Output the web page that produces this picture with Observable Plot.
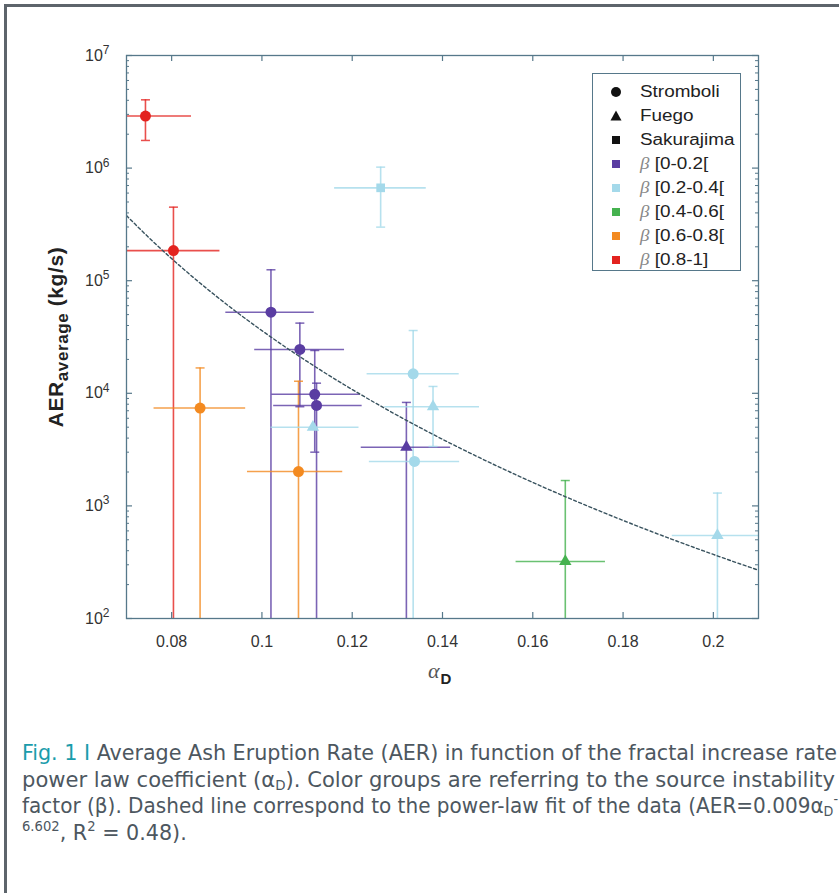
<!DOCTYPE html>
<html>
<head>
<meta charset="utf-8">
<script src="https://cdn.jsdelivr.net/npm/d3@7"></script>
<script src="https://cdn.jsdelivr.net/npm/@observablehq/plot@0.6"></script>
<style>
  html, body { margin: 0; padding: 0; background: #fff; }
  body { width: 839px; height: 893px; overflow: hidden; position: relative; font-family: "Liberation Sans", Arial, sans-serif; }
  #frame { position: absolute; left: 4px; top: 4px; width: 850px; height: 900px; border-left: 3px solid #5d646b; border-top: 3px solid #5d646b; box-sizing: border-box; }
  #chart { position: absolute; left: 0; top: 0; }
  #ylabel { position: absolute; left: 58px; top: 337px; transform: translate(-50%, -50%) rotate(-90deg); white-space: nowrap; font-weight: bold; color: #222; font-size: 21px; letter-spacing: 0.6px; }
  #ylabel sub { font-size: 17px; vertical-align: -5px; }
  #xlabel { position: absolute; left: 428px; top: 658px; white-space: nowrap; color: #222; }
  #xlabel .a { font-family: "Liberation Serif", serif; font-style: italic; font-size: 22px; color: #555; }
  #xlabel .d { font-weight: bold; font-size: 15px; position: relative; top: 6px; margin-left: 1px; }
  #legend { position: absolute; left: 592px; top: 73px; width: 149px; height: 198px; border: 1px solid #56788a; background: #fff; box-sizing: border-box; }
  .item { position: absolute; left: 0; height: 20px; white-space: nowrap; }
  .item svg { position: absolute; left: 17px; top: 4px; }
  .item span { position: absolute; left: 47px; top: 0; font-size: 16px; line-height: 20px; color: #222; display: inline-block; transform: scaleX(1.18); transform-origin: left center; }
  .item span i { font-family: "Liberation Serif", serif; color: #888; }
  #caption { position: absolute; left: 22px; top: 740px; white-space: nowrap; font-family: "DejaVu Sans", sans-serif; font-stretch: condensed; font-size: 22px; line-height: 26.5px; color: #4d575f; }
  #caption .ln { display: inline-block; transform-origin: left center; }
  #caption .fig { color: #1a9cab; }
  #caption sub { font-size: 14px; vertical-align: -3px; line-height: 0; }
  #caption sup { font-size: 14px; vertical-align: 9px; line-height: 0; }
</style>
</head>
<body>
<div id="frame"></div>
<div id="chart"></div>
<div id="ylabel">AER<sub>average</sub> (kg/s)</div>
<div id="xlabel"><span class="a">α</span><span class="d">D</span></div>
<div id="legend"></div>
<div id="caption"></div>
<script>
// ---------------- data ----------------
const volcano   = ["Stromboli","Stromboli","Stromboli","Stromboli","Stromboli","Stromboli","Stromboli","Stromboli","Fuego","Fuego","Stromboli","Stromboli","Fuego","Fuego","Fuego","Sakurajima"];
const betaClass = ["[0.8-1]","[0.8-1]","[0.6-0.8[","[0-0.2[","[0-0.2[","[0.6-0.8[","[0-0.2[","[0-0.2[","[0.2-0.4[","[0-0.2[","[0.2-0.4[","[0.2-0.4[","[0.2-0.4[","[0.4-0.6[","[0.2-0.4[","[0.2-0.4["];
const alphaD    = [0.0742,0.0804,0.0863,0.1020,0.1084,0.1081,0.1117,0.1121,0.1113,0.1320,0.1335,0.1338,0.1379,0.1672,0.2009,0.1263];
const alphaLo   = [0.0640,0.0699,0.0761,0.0920,0.0984,0.0968,0.1022,0.1026,0.1020,0.1220,0.1233,0.1238,0.1272,0.1563,0.1909,0.1161];
const alphaHi   = [0.0844,0.0907,0.0964,0.1116,0.1183,0.1179,0.1218,0.1222,0.1215,0.1418,0.1437,0.1438,0.1482,0.1761,0.2109,0.1364];
const aer       = [2.9e6,1.85e5,7.4e3,5.25e4,2.45e4,2.02e3,9.8e3,7.8e3,5.0e3,3.32e3,1.49e4,2.48e3,7.6e3,321,546,6.68e5];
const aerLo     = [1.76e6,1,1,1,7.6e3,1,3.0e3,1,5.0e3,1,1,2.48e3,3.37e3,1,1,2.99e5];
const aerHi     = [4.04e6,4.5e5,1.68e4,1.25e5,4.2e4,1.28e4,2.4e4,1.23e4,5.0e3,8.3e3,3.61e4,2.48e3,1.15e4,1.68e3,1.3e3,1.02e6];

const volcanoes   = ["Stromboli","Fuego","Sakurajima"];
const betaClasses = ["[0-0.2[","[0.2-0.4[","[0.4-0.6[","[0.6-0.8[","[0.8-1]"];
const betaColors  = ["#5a3da2","#a4d9ea","#45b24f","#f38a20","#e3231f"];

const xTicks      = [0.08,0.10,0.12,0.14,0.16,0.18,0.20];
const xTickLabels = ["0.08","0.1","0.12","0.14","0.16","0.18","0.2"];
const yTicks      = [1e2,1e3,1e4,1e5,1e6,1e7];
const yTickExp    = ["2","3","4","5","6","7"];
const yMinor      = [2e2,3e2,4e2,5e2,6e2,7e2,8e2,9e2,2e3,3e3,4e3,5e3,6e3,7e3,8e3,9e3,2e4,3e4,4e4,5e4,6e4,7e4,8e4,9e4,2e5,3e5,4e5,5e5,6e5,7e5,8e5,9e5,2e6,3e6,4e6,5e6,6e6,7e6,8e6,9e6];

// power-law fit AER = 0.009 * alpha^-6.602 (from the caption)
const fitA = 0.009, fitB = -6.602;
const fitAlpha = d3.range(0.070, 0.2105, 0.002);

// ---------------- build ----------------
const points = alphaD.map((x, i) => ({
  x, xLo: alphaLo[i], xHi: alphaHi[i],
  y: aer[i], yLo: aerLo[i], yHi: aerHi[i],
  volcano: volcano[i], beta: betaClass[i]
}));
const rBy = {Stromboli: 5.5, Fuego: 4.6, Sakurajima: 4.9};
const capSymbol = { draw(ctx, size) { const w = Math.sqrt(size / Math.PI); ctx.moveTo(-w, 0); ctx.lineTo(w, 0); } };
const axisColor = "#56788a";
const xDom = [0.07, 0.21], yDom = [1e2, 1e7];
const mL = 126, mR = 81, mT = 55, mB = 82, W = 839, H = 700;
const plotW = W - mL - mR, plotH = H - mT - mB;

const chart = Plot.plot({
  width: W, height: H,
  marginLeft: mL, marginRight: mR, marginTop: mT, marginBottom: mB,
  style: { fontFamily: "Liberation Sans, Arial, sans-serif", fontSize: "16px", background: "transparent" },
  x: { domain: xDom, label: null },
  y: { type: "log", domain: yDom, label: null },
  color: { domain: betaClasses, range: betaColors },
  symbol: { domain: volcanoes, range: ["circle", "triangle", "square"] },
  r: { type: "identity" },
  marks: [
    // error bars
    Plot.ruleX(points, { x: "x", y1: "yLo", y2: "yHi", stroke: "beta", strokeWidth: 1.6, strokeOpacity: 0.8, clip: true }),
    Plot.ruleY(points, { y: "y", x1: "xLo", x2: "xHi", stroke: "beta", strokeWidth: 1.6, strokeOpacity: 0.8, clip: true }),
    Plot.dot(points.filter(d => d.yHi > d.y), { x: "x", y: "yHi", symbol: capSymbol, r: 4.5, stroke: "beta", fill: "none", strokeWidth: 1.5, strokeOpacity: 0.8, clip: true }),
    Plot.dot(points.filter(d => d.yLo < d.y), { x: "x", y: "yLo", symbol: capSymbol, r: 4.5, stroke: "beta", fill: "none", strokeWidth: 1.5, strokeOpacity: 0.8, clip: true }),
    // fit line
    Plot.line(fitAlpha, { x: d => d, y: d => fitA * Math.pow(d, fitB), stroke: "#38525e", strokeWidth: 1.4, strokeDasharray: "3,2.5", clip: true }),
    // markers
    Plot.dot(points, { x: "x", y: "y", symbol: "volcano", fill: "beta", r: d => rBy[d.volcano], stroke: "none" }),
    // frame
    Plot.frame({ stroke: axisColor, strokeWidth: 1.3 }),
    // inward ticks (rules spanning the frame, inset to a short stub)
    Plot.ruleX(xTicks, { x: d => d, insetTop: plotH - 6, stroke: axisColor, strokeWidth: 1.2 }),
    Plot.ruleX(xTicks, { x: d => d, insetBottom: plotH - 6, stroke: axisColor, strokeWidth: 1.2 }),
    Plot.ruleY(yTicks, { y: d => d, insetRight: plotW - 6, stroke: axisColor, strokeWidth: 1.2 }),
    Plot.ruleY(yTicks, { y: d => d, insetLeft: plotW - 6, stroke: axisColor, strokeWidth: 1.2 }),
    Plot.ruleY(yMinor, { y: d => d, insetRight: plotW - 3, stroke: axisColor, strokeWidth: 1 }),
    Plot.ruleY(yMinor, { y: d => d, insetLeft: plotW - 3, stroke: axisColor, strokeWidth: 1 }),
    // tick labels
    Plot.axisX({ anchor: "bottom", ticks: xTicks, tickSize: 0, tickPadding: 17, tickFormat: d => xTickLabels[xTicks.indexOf(d)], color: "#333", label: null }),
    Plot.axisY({ anchor: "left", ticks: yTicks, tickSize: 0, tickPadding: 17, tickFormat: d => "10^" + yTickExp[yTicks.indexOf(d)], color: "#333", label: null })
  ]
});
document.getElementById("chart").appendChild(chart);

// superscript exponents on y tick labels
d3.select(chart).selectAll("text").each(function () {
  const t = this.textContent;
  const m = /^10\^(\d)$/.exec(t);
  if (!m) return;
  const s = d3.select(this);
  s.text(null);
  s.append("tspan").text("10");
  s.append("tspan").attr("dy", "-0.55em").attr("font-size", "12px").text(m[1]);
});

// ---------------- legend ----------------
const legend = document.getElementById("legend");
const legendRows = [
  { shape: "circle", color: "#111", html: "Stromboli" },
  { shape: "triangle", color: "#111", html: "Fuego" },
  { shape: "square", color: "#111", html: "Sakurajima" },
  ...betaClasses.map((b, i) => ({ shape: "swatch", color: betaColors[i], html: "<i>β</i> " + b }))
];
const rowY = [8, 32, 56, 80, 104, 128, 152, 176];
legendRows.forEach((row, i) => {
  const div = document.createElement("div");
  div.className = "item";
  div.style.top = rowY[i] + "px";
  let shape = "";
  if (row.shape === "circle") shape = `<circle cx="6" cy="6" r="5" fill="${row.color}"/>`;
  else if (row.shape === "triangle") shape = `<path d="M6,0.5 L11.5,10.5 L0.5,10.5 Z" fill="${row.color}"/>`;
  else shape = `<rect x="2" y="2" width="8" height="8" fill="${row.color}"/>`;
  div.innerHTML = `<svg width="12" height="12">${shape}</svg><span>${row.html}</span>`;
  legend.appendChild(div);
});

// ---------------- caption ----------------
const captionLines = [
  '<span class="fig">Fig. 1 I</span> Average Ash Eruption Rate (AER) in function of the fractal increase rate',
  'power law coefficient (α<sub>D</sub>). Color groups are referring to the source instability',
  'factor (β). Dashed line correspond to the power-law fit of the data (AER=0.009α<sub>D</sub><sup>-</sup>',
  '<sup>6.602</sup>, R<sup>2</sup> = 0.48).'
];
const lineTargets = [815, 813, 816, null];
const cap = document.getElementById("caption");
cap.innerHTML = captionLines.map(l => `<div><span class="ln">${l}</span></div>`).join("");
const spans = cap.querySelectorAll(".ln");
const k0 = lineTargets[0] / spans[0].getBoundingClientRect().width;
spans.forEach((s, i) => {
  const w = s.getBoundingClientRect().width;
  const k = lineTargets[i] ? lineTargets[i] / w : k0;
  s.style.transform = `scaleX(${k})`;
});
</script>
</body>
</html>
